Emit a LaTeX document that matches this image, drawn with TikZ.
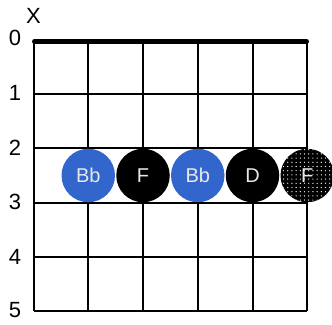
\documentclass[tikz,border=0pt]{standalone}
\usepackage{fontspec}
\setmainfont{Liberation Sans}
\usetikzlibrary{patterns}
\definecolor{noteblue}{HTML}{3366CC}
\definecolor{notetext}{HTML}{E8E8E8}
\pgfdeclarepatternformonly{sparsedots}{\pgfpoint{-1pt}{-1pt}}{\pgfpoint{5.2pt}{5.2pt}}{\pgfpoint{4.2pt}{4.2pt}}{%
  \pgfpathcircle{\pgfpoint{2.1pt}{2.1pt}}{0.65pt}\pgfusepath{fill}}
\tikzset{
  gridline/.style={line width=2pt, black},
  nutline/.style={line width=5pt, black, line cap=round},
  fretnum/.style={font=\fontsize{22}{22}\selectfont, anchor=center},
  notedot/.style={circle, minimum size=53.5pt, inner sep=0pt, text=notetext, font=\fontsize{20}{20}\selectfont},
  bluedot/.style={notedot, fill=noteblue},
  blackdot/.style={notedot, fill=black},
}
\begin{document}
\begin{tikzpicture}[x=1pt,y=-1pt]
\useasboundingbox (0,0) rectangle (332,324);
% strings
\foreach \i in {0,...,5} {
  \draw[gridline] ({33.5+54.75*\i},40) -- ({33.5+54.75*\i},311);
}
% frets
\foreach \j in {1,...,5} {
  \draw[gridline] (33.5,{40+54.2*\j}) -- (307.25,{40+54.2*\j});
}
\draw[nutline] (34.5,41.5) -- (306.5,41.5);
% fret numbers
\node[fretnum] (n0) at (15,38) {0};
\node[fretnum] (n1) at (15,93) {1};
\node[fretnum] (n2) at (15,147.5) {2};
\node[fretnum] (n3) at (15,202) {3};
\node[fretnum] (n4) at (15,256.5) {4};
\node[fretnum] (n5) at (15,310.5) {5};
\node[fretnum] (mute) at (33.5,16) {X};
% notes
\node[bluedot] (d2) at (88.25,175.5) {Bb};
\node[blackdot] (d3) at (143,175.5) {F};
\node[bluedot] (d4) at (197.75,175.5) {Bb};
\node[blackdot] (d5) at (252.5,175.5) {D};
\fill[black] (307.25,175.5) circle (26.75);
\fill[pattern=sparsedots, pattern color=white] (307.25,175.5) circle (26.75);
\node[notedot] (d6) at (307.25,175.5) {F};
\end{tikzpicture}
\end{document}
